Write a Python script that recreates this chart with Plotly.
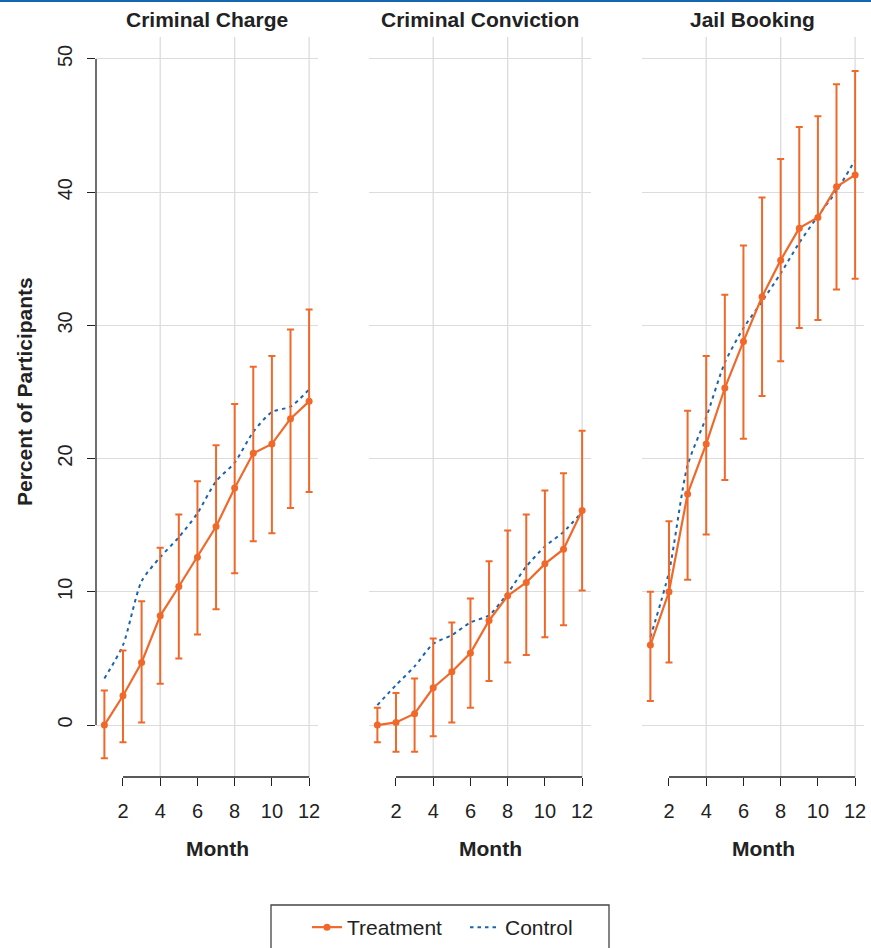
import plotly.graph_objects as go

months = list(range(1, 13))
x_tick_vals = [2, 4, 6, 8, 10, 12]
x_grid_vals = [4, 8, 12]
y_tick_vals = [0, 10, 20, 30, 40, 50]
panel_titles = ["Criminal Charge", "Criminal Conviction", "Jail Booking"]

charge_trt = [0.0, 2.2, 4.7, 8.2, 10.4, 12.6, 14.9, 17.8, 20.4, 21.1, 23.0, 24.3]
charge_trt_lo = [-2.5, -1.3, 0.2, 3.1, 5.0, 6.8, 8.7, 11.4, 13.8, 14.4, 16.3, 17.5]
charge_trt_hi = [2.6, 5.6, 9.3, 13.3, 15.8, 18.3, 21.0, 24.1, 26.9, 27.7, 29.7, 31.2]
charge_ctl = [3.5, 6.0, 10.8, 12.6, 14.1, 15.9, 18.3, 19.7, 22.0, 23.5, 23.9, 25.2]

conv_trt = [0.0, 0.2, 0.85, 2.8, 4.0, 5.4, 7.85, 9.7, 10.7, 12.1, 13.2, 16.1]
conv_trt_lo = [-1.3, -2.0, -2.0, -0.85, 0.2, 1.3, 3.3, 4.7, 5.25, 6.6, 7.5, 10.1]
conv_trt_hi = [1.3, 2.4, 3.5, 6.5, 7.7, 9.5, 12.3, 14.6, 15.8, 17.6, 18.9, 22.1]
conv_ctl = [1.5, 3.0, 4.4, 6.1, 6.75, 7.7, 8.25, 9.9, 11.9, 13.4, 14.5, 16.0]

jail_trt = [6.0, 10.0, 17.35, 21.1, 25.3, 28.8, 32.15, 34.9, 37.3, 38.1, 40.4, 41.3]
jail_trt_lo = [1.8, 4.7, 10.9, 14.3, 18.4, 21.5, 24.7, 27.3, 29.8, 30.4, 32.7, 33.5]
jail_trt_hi = [10.0, 15.3, 23.6, 27.7, 32.3, 36.0, 39.6, 42.5, 44.9, 45.7, 48.1, 49.1]
jail_ctl = [6.6, 11.5, 19.5, 23.1, 27.2, 29.8, 31.8, 33.9, 36.2, 38.2, 40.1, 42.4]

panels = [
    (charge_trt, charge_trt_lo, charge_trt_hi, charge_ctl),
    (conv_trt, conv_trt_lo, conv_trt_hi, conv_ctl),
    (jail_trt, jail_trt_lo, jail_trt_hi, jail_ctl),
]

ORANGE = "#F0692A"
BLUE = "#1A64AE"
GRID = "#DCDCDC"
INK = "#222222"
FONT = "Liberation Sans, Arial, sans-serif"

W, H = 871, 948
panel_left = [96, 369, 642]
panel_w = 221.5
y_bottom_px, y_top_px = 777, 37

fig = go.Figure()

for i, (trt, lo, hi, ctl) in enumerate(panels):
    suffix = "" if i == 0 else str(i + 1)
    fig.add_trace(go.Scatter(
        x=months, y=ctl, mode="lines", name="Control",
        line=dict(color=BLUE, width=2, dash="3.5px,4px", shape="spline", smoothing=0.7),
        xaxis="x" + suffix, yaxis="y" + suffix,
        showlegend=(i == 0), legendrank=2,
    ))
    fig.add_trace(go.Scatter(
        x=months, y=trt, mode="lines+markers", name="Treatment",
        line=dict(color=ORANGE, width=2.2),
        marker=dict(color=ORANGE, size=7),
        error_y=dict(type="data", symmetric=False,
                     array=[h - v for h, v in zip(hi, trt)],
                     arrayminus=[v - l for l, v in zip(lo, trt)],
                     color=ORANGE, thickness=2, width=3.5),
        xaxis="x" + suffix, yaxis="y" + suffix,
        showlegend=(i == 0), legendrank=1,
    ))

ydom = [(H - y_bottom_px) / H, (H - y_top_px) / H]
layout = dict(
    width=W, height=H,
    margin=dict(l=0, r=0, t=0, b=0, autoexpand=False),
    paper_bgcolor="white", plot_bgcolor="white",
    font=dict(family=FONT, color=INK, size=20),
    showlegend=True,
    legend=dict(orientation="h", x=307 / W, xanchor="left", y=(H - 907) / H, yanchor="top",
                borderwidth=0, bgcolor="rgba(0,0,0,0)",
                font=dict(size=21, family=FONT, color=INK),
                entrywidth=113, traceorder="normal"),
)
shapes = []
annotations = []
for i in range(3):
    suffix = "" if i == 0 else str(i + 1)
    xd = [panel_left[i] / W, (panel_left[i] + panel_w) / W]
    layout["xaxis" + suffix] = dict(
        domain=xd, range=[0.55, 12.45], anchor="y" + suffix,
        tickvals=x_tick_vals, ticks="outside", ticklen=8, tickwidth=1.3, tickcolor=INK,
        showgrid=False, zeroline=False, showline=False,
        tickfont=dict(size=20, family=FONT, color=INK),
        ticklabelstandoff=8,
    )
    layout["yaxis" + suffix] = dict(
        domain=ydom, range=[-3.9, 51.65], anchor="x" + suffix,
        tickvals=y_tick_vals, showgrid=True, gridcolor=GRID, gridwidth=1.3,
        zeroline=False, showline=False,
        ticks="outside" if i == 0 else "", ticklen=8, tickwidth=1.3, tickcolor=INK,
        showticklabels=(i == 0), tickangle=-90,
        tickfont=dict(size=20, family=FONT, color=INK),
        ticklabelstandoff=7,
    )
    if i > 0:
        layout["yaxis" + suffix]["matches"] = "y"
    for gx in x_grid_vals:
        shapes.append(dict(type="line", xref="x" + suffix, yref="y" + suffix + " domain",
                           x0=gx, x1=gx, y0=0, y1=1, layer="below",
                           line=dict(color=GRID, width=1.3)))
    shapes.append(dict(type="line", xref="x" + suffix, yref="y" + suffix + " domain",
                       x0=min(x_tick_vals), x1=max(x_tick_vals), y0=0, y1=0,
                       line=dict(color=INK, width=1.3)))
    annotations.append(dict(text="<b>" + panel_titles[i] + "</b>", xref="x" + suffix + " domain",
                            x=0.5, yref="paper", y=(H - 19) / H, showarrow=False,
                            xanchor="center", yanchor="middle",
                            font=dict(size=21, family=FONT, color=INK)))
    annotations.append(dict(text="<b>Month</b>", xref="x" + suffix + " domain",
                            x=0.55, yref="paper", y=(H - 848) / H, showarrow=False,
                            xanchor="center", yanchor="middle",
                            font=dict(size=21, family=FONT, color=INK)))

shapes.append(dict(type="line", xref="x domain", yref="y",
                   x0=0, x1=0, y0=min(y_tick_vals), y1=max(y_tick_vals),
                   line=dict(color=INK, width=1.3)))
shapes.append(dict(type="line", xref="paper", yref="paper", x0=0, x1=1, y0=0.999, y1=0.999,
                   line=dict(color="#1565B0", width=2)))
# legend frame
shapes.append(dict(type="rect", xref="paper", yref="paper",
                   x0=271 / W, x1=609 / W, y0=-0.05, y1=(H - 905) / H,
                   line=dict(color="#444444", width=1.3), fillcolor="rgba(0,0,0,0)"))
annotations.append(dict(text="<b>Percent of Participants</b>", xref="paper", x=25 / W,
                        yref="paper", y=(H - 392) / H, textangle=-90, showarrow=False,
                        xanchor="center", yanchor="middle",
                        font=dict(size=21, family=FONT, color=INK)))
layout["shapes"] = shapes
layout["annotations"] = annotations
fig.update_layout(**layout)

fig.write_html("out.html", config={"displayModeBar": False},
               post_script="document.body.style.margin='0';document.body.style.padding='0';")
